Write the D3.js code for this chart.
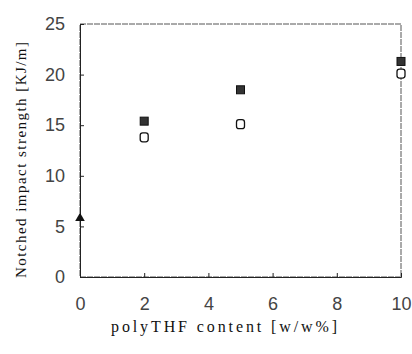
<!DOCTYPE html>
<html>
<head>
<meta charset="utf-8">
<script src="https://cdn.jsdelivr.net/npm/d3@7"></script>
<style>
  body { margin: 0; background: #fff; }
  .tick text { font-family: "Liberation Sans", Arial, sans-serif; font-size: 18px; fill: #444; }
  .label { font-family: "Liberation Serif", "Times New Roman", serif; fill: #111; }
</style>
</head>
<body>
<svg id="chart"></svg>
<script>
// values
const filledX = [2, 5, 10];
const filledY = [15.4, 18.5, 21.3];
const openX = [2, 5, 10];
const openY = [13.8, 15.1, 20.1];
const triX = [0];
const triY = [5.8];
const xTicks = [0, 2, 4, 6, 8, 10];
const yTicks = [0, 5, 10, 15, 20, 25];

const width = 412, height = 354;
const margin = {top: 24, right: 11, bottom: 77, left: 80};

const svg = d3.select('#chart')
    .attr('width', width)
    .attr('height', height);

const innerW = width - margin.left - margin.right;
const innerH = height - margin.top - margin.bottom;

const chart = svg.append('g')
    .attr('transform', `translate(${margin.left}, ${margin.top})`);

const xScale = d3.scaleLinear().domain([0, 10]).range([0, innerW]);
const yScale = d3.scaleLinear().domain([0, 25]).range([innerH, 0]);

// frame
chart.append('rect')
    .attr('width', innerW)
    .attr('height', innerH)
    .attr('fill', 'none')
    .attr('stroke', '#555')
    .attr('stroke-width', 1)
    .attr('stroke-dasharray', '6,1');

const xAxis = d3.axisBottom(xScale).tickValues(xTicks).tickSize(-4).tickPadding(20);
const yAxis = d3.axisLeft(yScale).tickValues(yTicks).tickSize(-4).tickPadding(15);

const xg = chart.append('g')
    .attr('transform', `translate(0, ${innerH})`)
    .call(xAxis);
const yg = chart.append('g').call(yAxis);

[xg, yg].forEach(g => {
    g.select('.domain').attr('stroke', '#222');
    g.selectAll('.tick line').attr('stroke', '#222');
});

// filled squares
const s = 8;
chart.selectAll('rect.filled')
    .data(filledX.map((x, i) => [x, filledY[i]]))
  .join('rect')
    .attr('class', 'filled')
    .attr('x', d => xScale(d[0]) - s / 2)
    .attr('y', d => yScale(d[1]) - s / 2)
    .attr('width', s)
    .attr('height', s)
    .attr('fill', '#333')
    .attr('stroke', '#111')
    .attr('stroke-width', 1);

// open rounded squares
chart.selectAll('rect.open')
    .data(openX.map((x, i) => [x, openY[i]]))
  .join('rect')
    .attr('class', 'open')
    .attr('x', d => xScale(d[0]) - 4)
    .attr('y', d => yScale(d[1]) - 4.5)
    .attr('width', 8)
    .attr('height', 9)
    .attr('rx', 2.5)
    .attr('fill', '#fff')
    .attr('stroke', '#111')
    .attr('stroke-width', 1.3);

// triangle
chart.selectAll('path.tri')
    .data(triX.map((x, i) => [x, triY[i]]))
  .join('path')
    .attr('class', 'tri')
    .attr('d', d3.symbol(d3.symbolTriangle, 40))
    .attr('transform', d => `translate(${xScale(d[0])}, ${yScale(d[1])})`)
    .attr('fill', '#111');

// axis titles
svg.append('text')
    .attr('class', 'label')
    .attr('x', 224)
    .attr('y', 332)
    .attr('text-anchor', 'middle')
    .attr('font-size', 16)
    .attr('textLength', 226)
    .attr('lengthAdjust', 'spacing')
    .text('polyTHF content [w/w%]');

svg.append('text')
    .attr('class', 'label')
    .attr('transform', 'translate(26, 160) rotate(-90)')
    .attr('text-anchor', 'middle')
    .attr('font-size', 15)
    .attr('textLength', 236)
    .attr('lengthAdjust', 'spacing')
    .text('Notched impact strength [KJ/m]');
</script>
</body>
</html>
